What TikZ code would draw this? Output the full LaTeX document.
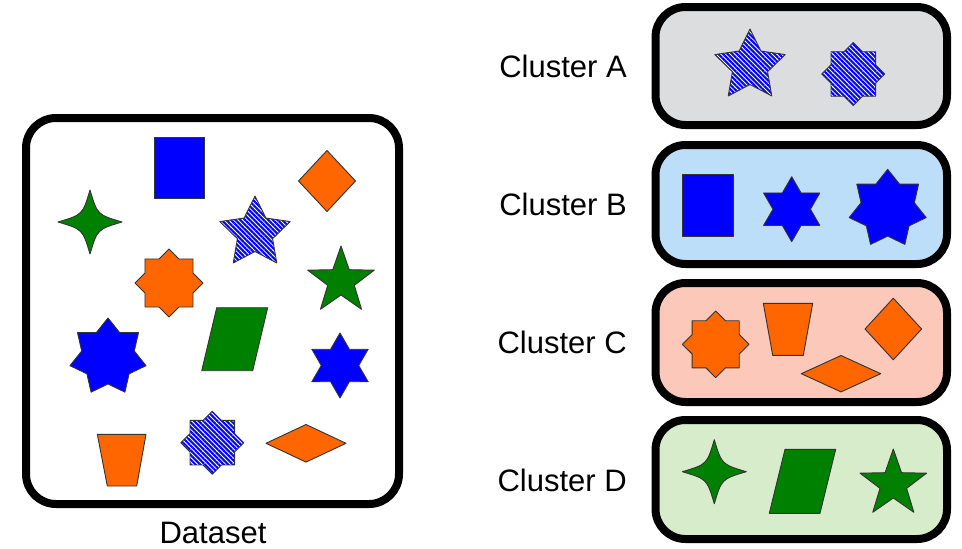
\documentclass[tikz,border=0pt]{standalone}
\usepackage{fontspec}
\setmainfont{Liberation Sans}
\usepackage{tikz}
\usetikzlibrary{patterns.meta}
\definecolor{orng}{HTML}{FF6600}
\definecolor{grn}{HTML}{008000}
\definecolor{blu}{HTML}{0000FF}
\definecolor{fillA}{HTML}{DCDDDF}
\definecolor{fillB}{HTML}{BDDEF9}
\definecolor{fillC}{HTML}{FCC8B9}
\definecolor{fillD}{HTML}{D6ECCB}

\begin{document}
\begin{tikzpicture}[x=1pt,y=-1pt,line join=round,
    box/.style={line width=8pt, rounded corners=30pt},
    shp/.style={draw=black!80, line width=0.9pt},
    org/.style={shp, fill=orng},
    gr/.style={shp, fill=grn},
    bl/.style={shp, fill=blu},
    hatch/.style={shp, preaction={fill=white},
      pattern={Lines[angle=-45,distance=3.3pt,line width=2.1pt]}, pattern color=blu},
    lbl/.style={font=\fontsize{31}{36}\selectfont, anchor=base east, inner sep=0pt}]
        \useasboundingbox (0,0) rectangle (962,549);
        % star: style, centre, points, outer radius, inner ratio
        \def\starpoly#1#2#3#4#5{\draw[#1, shift={#2}] (-90:#4)
          \foreach \k in {1,...,#3}{ -- ({-90+(\k-0.5)*360/#3}:{#4*#5}) -- ({-90+\k*360/#3}:#4)} -- cycle;}
        % four pointed star with bent sides
        \def\sparkle#1#2{\draw[gr, shift={#1}] (0,-#2)
          .. controls ({0.23*#2},{-0.23*#2}) .. (#2,0)
          .. controls ({0.23*#2},{0.23*#2}) .. (0,#2)
          .. controls ({-0.23*#2},{0.23*#2}) .. (-#2,0)
          .. controls ({-0.23*#2},{-0.23*#2}) .. cycle;}
        % rhombus: centre, half width, half height
        \def\rhomb#1#2#3{\draw[org, shift={#1}] (-#2,0) -- (0,-#3) -- (#2,0) -- (0,#3) -- cycle;}

        % the dataset
        \draw[box] (26,118) rectangle (399,504);
        \node[anchor=base, inner sep=0pt, font=\fontsize{31}{36}\selectfont] (data) at (213,543) {Dataset};
        \draw[bl] (154,137) rectangle (204,198);
        \rhomb{(327,181)}{28.5}{30.5}
        \sparkle{(90,222)}{32}
        \starpoly{hatch}{(255,233)}{5}{37}{0.5}
        \starpoly{org}{(169,283)}{8}{34}{0.765}
        \starpoly{gr}{(341,281)}{5}{35}{0.4}
        \starpoly{bl}{(108,357)}{7}{39}{0.692}
        \draw[gr] (216.7,307.7) -- (267.7,307.7) -- (252.7,370.7) -- (201.7,370.7) -- cycle;
        \starpoly{bl}{(340,365.5)}{6}{32.5}{0.577}
        \draw[org] (97.3,434.3) -- (146,434.3) -- (136.7,486) -- (107.3,486) -- cycle;
        \starpoly{hatch}{(212.3,442.7)}{8}{31.5}{0.765}
        \rhomb{(306,443.3)}{40}{18.8}

        % the clusters
        \draw[box, fill=fillA] (655.5,7) rectangle (947,125);
        \draw[box, fill=fillB] (655.5,145) rectangle (947,264);
        \draw[box, fill=fillC] (655.5,283) rectangle (947,402);
        \draw[box, fill=fillD] (655.5,420) rectangle (947,539);
        \node[lbl] (labA) at (627,77) {Cluster A};
        \node[lbl] (labB) at (627,215) {Cluster B};
        \node[lbl] (labC) at (627,353) {Cluster C};
        \node[lbl] (labD) at (627,491) {Cluster D};

        \starpoly{hatch}{(750,66)}{5}{37}{0.5}
        \starpoly{hatch}{(853.3,74)}{8}{31.5}{0.765}

        \draw[bl] (682.7,174) rectangle (733.3,236);
        \starpoly{bl}{(791.7,209.2)}{6}{32.5}{0.577}
        \starpoly{bl}{(887.7,208.8)}{7}{39.5}{0.692}

        \starpoly{org}{(715.7,344.3)}{8}{33.3}{0.765}
        \draw[org] (763.3,303.3) -- (812.7,303.3) -- (803.3,355.3) -- (772.7,355.3) -- cycle;
        \rhomb{(893.3,329)}{28.3}{30.8}
        \rhomb{(841,373.7)}{39.7}{18.2}

        \sparkle{(714.3,471.7)}{32}
        \draw[gr] (785,449.3) -- (835.7,449.3) -- (820,513.3) -- (769.3,513.3) -- cycle;
        \starpoly{gr}{(893.3,484)}{5}{35}{0.4}
\end{tikzpicture}
\end{document}
